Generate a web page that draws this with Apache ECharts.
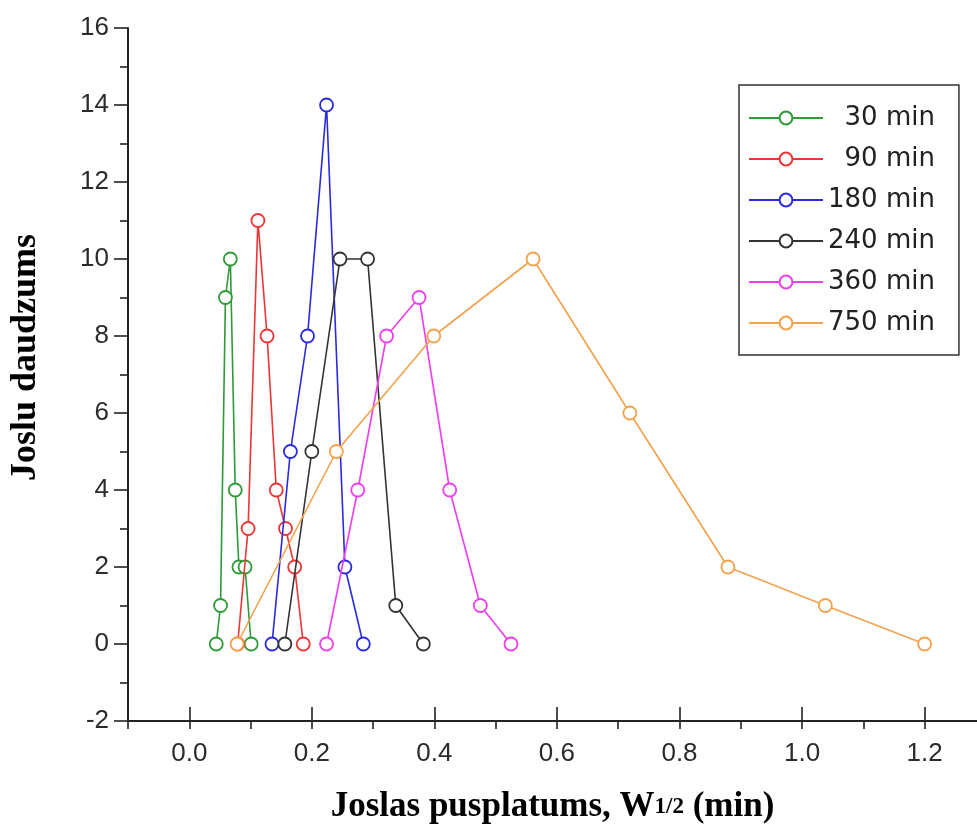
<!DOCTYPE html>
<html>
<head>
<meta charset="utf-8">
<script src="https://cdn.jsdelivr.net/npm/echarts@6/dist/echarts.min.js"></script>
<style>
html,body{margin:0;padding:0;background:#fff;}
#c{width:977px;height:835px;}
</style>
</head>
<body>
<div id="c"></div>
<script>
// Series names (legend)
const categories = ['30 min', '90 min', '180 min', '240 min', '360 min', '750 min'];
// X: band half-width (min), Y: band count
const x30  = [0.044, 0.051, 0.059, 0.067, 0.075, 0.081, 0.091, 0.101];
const y30  = [0, 1, 9, 10, 4, 2, 2, 0];
const x90  = [0.079, 0.096, 0.112, 0.127, 0.142, 0.157, 0.172, 0.186];
const y90  = [0, 3, 11, 8, 4, 3, 2, 0];
const x180 = [0.135, 0.165, 0.193, 0.224, 0.254, 0.284];
const y180 = [0, 5, 8, 14, 2, 0];
const x240 = [0.156, 0.200, 0.246, 0.291, 0.337, 0.382];
const y240 = [0, 5, 10, 10, 1, 0];
const x360 = [0.224, 0.275, 0.322, 0.375, 0.425, 0.475, 0.525];
const y360 = [0, 4, 8, 9, 4, 1, 0];
const x750 = [0.078, 0.240, 0.399, 0.561, 0.719, 0.879, 1.038, 1.200];
const y750 = [0, 5, 8, 10, 6, 2, 1, 0];
// Tick values
const xMajorTicks = [0.0, 0.2, 0.4, 0.6, 0.8, 1.0, 1.2];
const yTicks = [-2, 0, 2, 4, 6, 8, 10, 12, 14, 16];

const xsAll = [x30, x90, x180, x240, x360, x750];
const ysAll = [y30, y90, y180, y240, y360, y750];
const colors = ['#2f9a36', '#ee3535', '#2a2ae0', '#333333', '#f23cf0', '#f2a24a'];

const chart = echarts.init(document.getElementById('c'), null, {renderer: 'canvas'});

const series = categories.map((name, i) => ({
  name: name,
  type: 'line',
  xAxisIndex: 0,
  yAxisIndex: 0,
  data: xsAll[i].map((x, j) => [x, ysAll[i][j]]),
  symbol: 'circle',
  symbolSize: 13,
  showSymbol: true,
  lineStyle: {color: colors[i], width: 1.6},
  itemStyle: {color: '#ffffff', borderColor: colors[i], borderWidth: 1.8},
  emphasis: {disabled: true},
  animation: false,
  clip: false,
  z: 2 + i
}));

const tickFont = {fontFamily: 'Liberation Sans, Arial, sans-serif', fontSize: 26, color: '#2b2b2b'};
const isMajor = v => xMajorTicks.some(t => Math.abs(t - v) < 1e-6);

const option = {
  animation: false,
  backgroundColor: '#ffffff',
  grid: {left: 127, top: 28, right: 0, bottom: 114, containLabel: false},
  legend: {
    orient: 'vertical',
    left: 739,
    top: 85,
    padding: [20, 24, 19, 9],
    itemGap: 15,
    itemWidth: 74,
    itemHeight: 16,
    borderColor: '#333',
    borderWidth: 1.5,
    selectedMode: false,
    data: categories,
    formatter: function (n) { return n.length < 7 ? '\u00a0\u00a0' + n : n; },
    textStyle: {fontFamily: 'DejaVu Sans, sans-serif', fontSize: 26, lineHeight: 26, color: '#222'}
  },
  xAxis: [{
    type: 'value',
    min: -0.1,
    max: 1.2855,
    interval: 0.1,
    splitLine: {show: false},
    axisLine: {show: true, onZero: false, lineStyle: {color: '#222', width: 2}},
    axisTick: {show: true, inside: false, length: 8, lineStyle: {color: '#222', width: 1.6}},
    axisLabel: Object.assign({show: true, margin: 20, showMinLabel: true, showMaxLabel: false,
      formatter: v => isMajor(v) ? v.toFixed(1) : ''}, tickFont),
    name: '{a|Joslas pusplatums, W}{s|1/2}{a| (min)}',
    nameLocation: 'middle',
    nameGap: 66,
    nameTextStyle: {
      rich: {
        a: {fontFamily: 'Liberation Serif, Times New Roman, serif', fontWeight: 'bold', fontSize: 35, lineHeight: 40, color: '#000'},
        s: {fontFamily: 'Liberation Serif, Times New Roman, serif', fontWeight: 'bold', fontSize: 23, lineHeight: 32, color: '#000'}
      }
    }
  }, {
    // overlay axis carrying only the longer major ticks, pinned to the bottom via a helper y-axis
    type: 'value',
    min: -0.1,
    max: 1.2855,
    gridIndex: 0,
    splitLine: {show: false},
    axisLine: {show: false, onZero: true, onZeroAxisIndex: 1},
    axisTick: {show: true, inside: false, length: 14, customValues: xMajorTicks, lineStyle: {color: '#222', width: 1.6}},
    axisLabel: {show: false}
  }],
  yAxis: [{
    type: 'value',
    min: -2,
    max: 16,
    interval: 2,
    splitLine: {show: false},
    axisLine: {show: true, onZero: false, lineStyle: {color: '#222', width: 2}},
    axisTick: {show: true, inside: false, length: 14, lineStyle: {color: '#222', width: 1.6}},
    minorTick: {show: true, splitNumber: 2, length: 8, lineStyle: {color: '#222', width: 1.6}},
    axisLabel: Object.assign({show: true, margin: 19}, tickFont),
    name: 'Joslu daudzums',
    nameLocation: 'middle',
    nameGap: 84,
    nameRotate: 90,
    nameTextStyle: {fontFamily: 'Liberation Serif, Times New Roman, serif', fontWeight: 'bold', fontSize: 36, color: '#000', padding: [0, 0, 0, 34]}
  }, {
    type: 'value',
    min: 0,
    max: 18,
    show: false,
    splitLine: {show: false}
  }],
  series: series
};

chart.setOption(option);
</script>
</body>
</html>
